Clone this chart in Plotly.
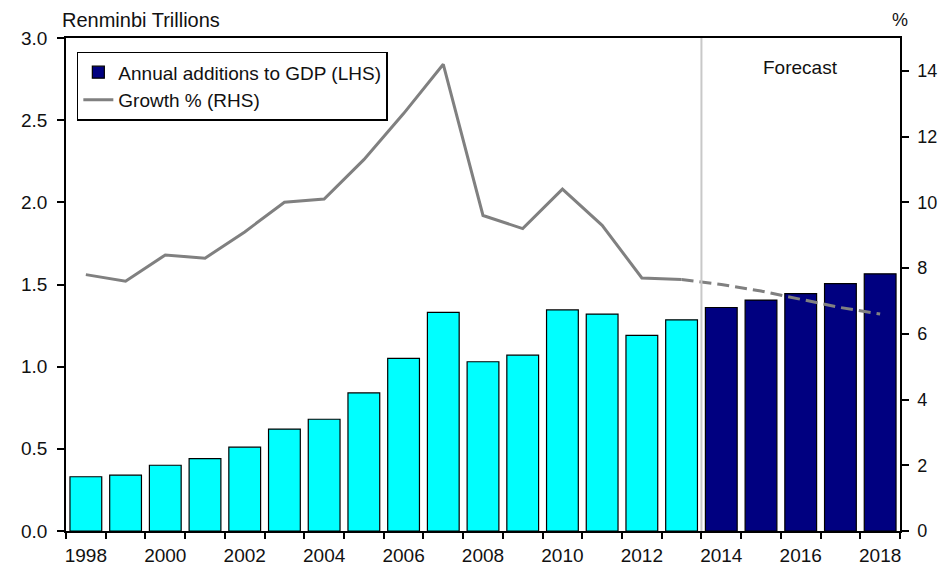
import plotly.graph_objects as go

years_hist = list(range(1998, 2014))
years_fcst = list(range(2014, 2019))
additions_hist = [0.33, 0.34, 0.40, 0.44, 0.51, 0.62, 0.68, 0.84, 1.05, 1.33,
                  1.03, 1.07, 1.345, 1.32, 1.19, 1.285]
additions_fcst = [1.36, 1.405, 1.445, 1.505, 1.565]

growth_years = list(range(1998, 2014))
growth_hist = [7.8, 7.6, 8.4, 8.3, 9.1, 10.0, 10.1, 11.3, 12.7, 14.2,
               9.6, 9.2, 10.4, 9.3, 7.7, 7.65]
growth_fcst_years = list(range(2013, 2019))
growth_fcst = [7.65, 7.5, 7.3, 7.05, 6.8, 6.6]

xtick_vals = list(range(1998, 2019, 2))
FONT = "Liberation Sans, Arial, sans-serif"
TXT = "#111111"

fig = go.Figure()
fig.add_trace(go.Bar(x=years_fcst, y=additions_fcst, name="Annual additions to GDP (LHS)",
                     marker=dict(color="#000080", line=dict(color="#000000", width=1.2)),
                     width=0.8, legendrank=1))
fig.add_trace(go.Bar(x=years_hist, y=additions_hist, showlegend=False,
                     marker=dict(color="#00FFFF", line=dict(color="#000000", width=1.2)),
                     width=0.8))
fig.add_trace(go.Scatter(x=growth_years, y=growth_hist, name="Growth % (RHS)", yaxis="y2",
                         mode="lines", line=dict(color="#808080", width=3), legendrank=2))
fig.add_trace(go.Scatter(x=growth_fcst_years, y=growth_fcst, showlegend=False, yaxis="y2",
                         mode="lines", line=dict(color="#808080", width=3, dash="12px,6px")))

fig.add_shape(type="line", x0=2013.5, x1=2013.5, y0=0, y1=1, xref="x", yref="paper",
              line=dict(color="#c8c8c8", width=2), layer="above")

fig.add_annotation(text="Forecast", x=2016.0, xref="x", y=0.94, yref="paper",
                   yanchor="middle", xanchor="center",
                   showarrow=False, font=dict(family=FONT, size=19, color=TXT))
fig.add_annotation(text="Renminbi Trillions", x=0, xref="paper", xanchor="left", y=1,
                   yref="paper", yanchor="bottom", yshift=5, xshift=-6, showarrow=False,
                   font=dict(family=FONT, size=20, color=TXT))
fig.add_annotation(text="%", x=1, xref="paper", xanchor="center", y=1,
                   yref="paper", yanchor="bottom", yshift=6, showarrow=False,
                   font=dict(family=FONT, size=18, color=TXT))

fig.update_layout(
    width=941, height=566,
    margin=dict(l=66, r=41, t=38, b=35),
    paper_bgcolor="white", plot_bgcolor="white",
    barmode="overlay",
    font=dict(family=FONT, size=19, color=TXT),
    showlegend=True,
    legend=dict(x=0.013, y=0.972, xanchor="left", yanchor="top",
                bordercolor="#000000", borderwidth=1.5, bgcolor="white",
                font=dict(family=FONT, size=19, color=TXT), tracegroupgap=0,
                traceorder="normal"),
    xaxis=dict(range=[1997.5, 2018.5], tickvals=xtick_vals, ticktext=[str(v) for v in xtick_vals],
               ticks="outside", ticklen=6, tickcolor="rgba(0,0,0,0)", automargin=False,
               minor=dict(tickvals=[y + 0.5 for y in range(1997, 2019)], ticks="outside",
                          ticklen=6, tickcolor="#000000", tickwidth=1.5),
               showline=True, linecolor="#000000", linewidth=1.5, mirror=True,
               showgrid=False, zeroline=False),
    yaxis=dict(range=[0, 3], dtick=0.5, tickformat=".1f", ticks="outside", ticklen=7,
               tickcolor="#000000", tickwidth=1.5, showline=True, linecolor="#000000",
               linewidth=1.5, showgrid=False, zeroline=False, automargin=False,
               ticklabelstandoff=6),
    yaxis2=dict(range=[0, 15], tickvals=list(range(0, 15, 2)), overlaying="y", side="right",
                ticks="outside", ticklen=7, tickcolor="#000000", tickwidth=1.5,
                tickfont=dict(family=FONT, size=18, color=TXT),
                showline=True, linecolor="#000000", linewidth=1.5, showgrid=False,
                zeroline=False, automargin=False, ticklabelstandoff=5),
)

fig.write_html("out.html", config={"displayModeBar": False},
               post_script="document.body.style.margin='0px';document.body.style.overflow='hidden';")
